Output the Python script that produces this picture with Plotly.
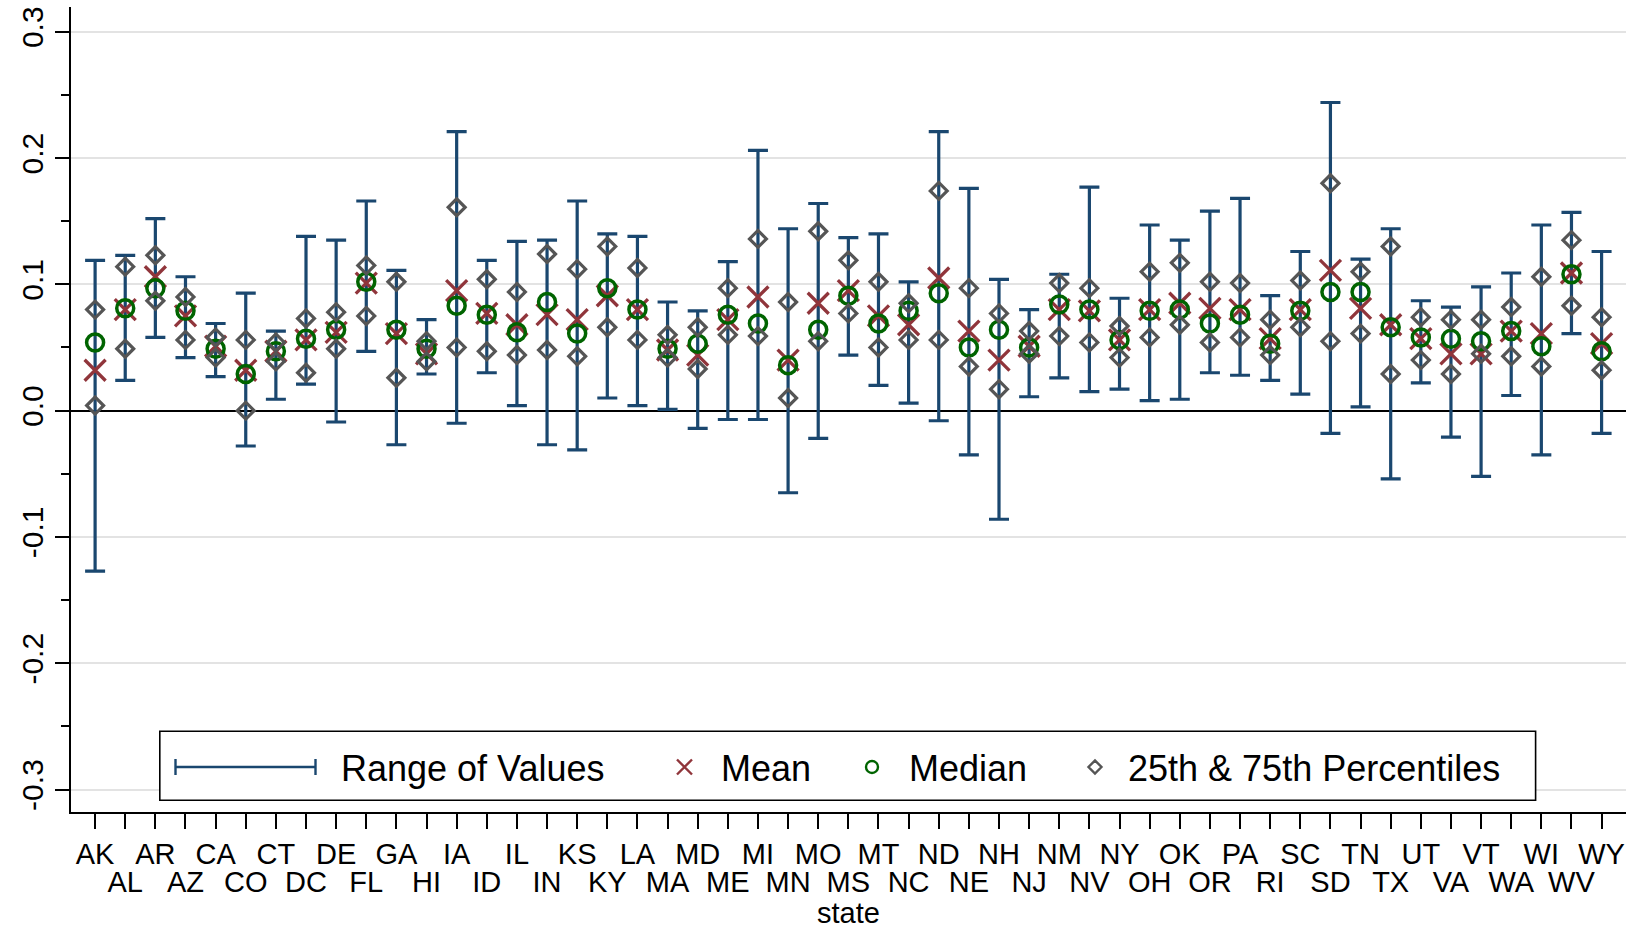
import plotly.graph_objects as go

# ---------------- data ----------------
states = ["AK", "AL", "AR", "AZ", "CA", "CO", "CT", "DC", "DE", "FL", "GA", "HI", "IA",
          "ID", "IL", "IN", "KS", "KY", "LA", "MA", "MD", "ME", "MI", "MN", "MO", "MS",
          "MT", "NC", "ND", "NE", "NH", "NJ", "NM", "NV", "NY", "OH", "OK", "OR", "PA",
          "RI", "SC", "SD", "TN", "TX", "UT", "VA", "VT", "WA", "WI", "WV", "WY"]

val_max = [0.119, 0.123, 0.152, 0.106, 0.069, 0.093, 0.063, 0.138, 0.135, 0.166, 0.111,
           0.072, 0.221, 0.119, 0.134, 0.135, 0.166, 0.140, 0.138, 0.086, 0.079, 0.118,
           0.206, 0.144, 0.164, 0.137, 0.140, 0.102, 0.221, 0.176, 0.104, 0.080, 0.108,
           0.177, 0.089, 0.147, 0.135, 0.158, 0.168, 0.091, 0.126, 0.244, 0.120, 0.144,
           0.087, 0.082, 0.098, 0.109, 0.147, 0.157, 0.126]

val_min = [-0.127, 0.024, 0.058, 0.042, 0.027, -0.028, 0.009, 0.021, -0.009, 0.047, -0.027,
           0.029, -0.010, 0.030, 0.004, -0.027, -0.031, 0.010, 0.004, 0.001, -0.014, -0.007,
           -0.007, -0.065, -0.022, 0.044, 0.020, 0.006, -0.008, -0.035, -0.086, 0.011, 0.026,
           0.015, 0.017, 0.008, 0.009, 0.030, 0.028, 0.024, 0.013, -0.018, 0.003, -0.054,
           0.022, -0.021, -0.052, 0.012, -0.035, 0.061, -0.018]

p75 = [0.080, 0.114, 0.123, 0.090, 0.058, 0.056, 0.054, 0.073, 0.078, 0.115, 0.102,
       0.055, 0.161, 0.104, 0.094, 0.124, 0.112, 0.130, 0.113, 0.060, 0.066, 0.097,
       0.136, 0.086, 0.142, 0.119, 0.102, 0.085, 0.174, 0.097, 0.077, 0.063, 0.101,
       0.097, 0.067, 0.110, 0.117, 0.102, 0.101, 0.072, 0.103, 0.180, 0.110, 0.130,
       0.074, 0.072, 0.072, 0.082, 0.106, 0.135, 0.074]

p25 = [0.004, 0.049, 0.087, 0.056, 0.042, 0.000, 0.039, 0.030, 0.049, 0.075, 0.026,
       0.039, 0.050, 0.047, 0.044, 0.048, 0.043, 0.066, 0.056, 0.042, 0.033, 0.060,
       0.059, 0.010, 0.055, 0.077, 0.050, 0.056, 0.056, 0.035, 0.017, 0.045, 0.059,
       0.054, 0.042, 0.058, 0.068, 0.054, 0.058, 0.044, 0.066, 0.055, 0.061, 0.029,
       0.040, 0.029, 0.045, 0.043, 0.035, 0.083, 0.032]

mean_vals = [0.032, 0.080, 0.106, 0.075, 0.051, 0.032, 0.047, 0.056, 0.062, 0.101, 0.061,
             0.045, 0.095, 0.077, 0.068, 0.076, 0.072, 0.091, 0.080, 0.048, 0.044, 0.072,
             0.090, 0.040, 0.085, 0.095, 0.075, 0.068, 0.105, 0.063, 0.040, 0.051, 0.080,
             0.079, 0.056, 0.080, 0.085, 0.081, 0.080, 0.057, 0.080, 0.111, 0.081, 0.068,
             0.057, 0.045, 0.045, 0.063, 0.061, 0.109, 0.053]

median_vals = [0.054, 0.081, 0.097, 0.079, 0.049, 0.029, 0.047, 0.057, 0.064, 0.102, 0.064,
               0.049, 0.083, 0.076, 0.062, 0.086, 0.061, 0.097, 0.080, 0.049, 0.053, 0.076,
               0.069, 0.036, 0.064, 0.091, 0.069, 0.079, 0.093, 0.050, 0.064, 0.050, 0.084,
               0.080, 0.056, 0.079, 0.080, 0.069, 0.076, 0.053, 0.079, 0.094, 0.094, 0.066,
               0.058, 0.057, 0.055, 0.063, 0.051, 0.108, 0.047]

ytick_vals = [-0.3, -0.2, -0.1, 0.0, 0.1, 0.2, 0.3]
ytick_text = ["-0.3", "-0.2", "-0.1", "0.0", "0.1", "0.2", "0.3"]
yminor_vals = [-0.25, -0.15, -0.05, 0.05, 0.15, 0.25]
legend_labels = ["Range of Values", "Mean", "Median", "25th & 75th Percentiles"]
x_title = "state"

# ---------------- style ----------------
NAVY = "#1a476f"
MAROON = "#90353b"
GREEN = "#006400"
GRAY = "#555555"
FONT = "Liberation Sans, Arial, sans-serif"

W, H = 1638, 932
L, R, T, B = 71, 12, 7, 120
PLOT_TOP_PX, PLOT_BOT_PX = T, H - B
PLOT_L_PX, PLOT_R_PX = L, W - R
plot_w = PLOT_R_PX - PLOT_L_PX
plot_h = PLOT_BOT_PX - PLOT_TOP_PX

X_RANGE = [-0.8, 50.81]
Y_RANGE = [-0.3178, 0.3196]


def px_to_x(px):
    return X_RANGE[0] + (px - PLOT_L_PX) / plot_w * (X_RANGE[1] - X_RANGE[0])


def px_to_y(py):
    return Y_RANGE[1] - (py - PLOT_TOP_PX) / plot_h * (Y_RANGE[1] - Y_RANGE[0])


n = len(states)
idx = list(range(n))
rng_up = [mx - mn for mx, mn in zip(val_max, val_min)]
zeros = [0] * n

fig = go.Figure()

# Range of values (caps at min and max)
fig.add_trace(go.Scatter(
    x=idx, y=val_min, mode="markers",
    marker=dict(size=2, opacity=0, color=NAVY),
    error_y=dict(type="data", symmetric=False, array=rng_up, arrayminus=zeros,
                 color=NAVY, thickness=3.2, width=10),
    showlegend=False, hoverinfo="skip"))

# Mean
fig.add_trace(go.Scatter(
    x=idx, y=mean_vals, mode="markers",
    marker=dict(symbol="x-thin-open", size=21, color=MAROON,
                line=dict(color=MAROON, width=3.3)),
    showlegend=False))

# Median
fig.add_trace(go.Scatter(
    x=idx, y=median_vals, mode="markers",
    marker=dict(symbol="circle-open", size=17, color=GREEN,
                line=dict(color=GREEN, width=3.5)),
    showlegend=False))

# 25th & 75th percentiles
fig.add_trace(go.Scatter(
    x=idx + idx, y=p25 + p75, mode="markers",
    marker=dict(symbol="diamond-open", size=13, color=GRAY,
                line=dict(color=GRAY, width=3.2)),
    showlegend=False))

# invisible trace so the second-row label axis is drawn
fig.add_trace(go.Scatter(x=[0], y=[0], xaxis="x2", yaxis="y", mode="markers",
                         marker=dict(opacity=0), showlegend=False, hoverinfo="skip"))

# ---------------- hand-made legend ----------------
box_x0, box_x1, box_y0, box_y1 = 159.8, 1535.6, 731.2, 800.2
leg_y = 767.0
sym_x = [None, 684.5, 872.0, 1095.0]
txt_x = [338.5, 719.0, 907.0, 1125.5]
ly = px_to_y(leg_y)

fig.add_trace(go.Scatter(x=[px_to_x(sym_x[1])], y=[ly], mode="markers",
                         marker=dict(symbol="x-thin-open", size=15, color=MAROON,
                                     line=dict(color=MAROON, width=2.4)),
                         showlegend=False, hoverinfo="skip"))
fig.add_trace(go.Scatter(x=[px_to_x(sym_x[2])], y=[ly], mode="markers",
                         marker=dict(symbol="circle-open", size=12, color=GREEN,
                                     line=dict(color=GREEN, width=2.4)),
                         showlegend=False, hoverinfo="skip"))
fig.add_trace(go.Scatter(x=[px_to_x(sym_x[3])], y=[ly], mode="markers",
                         marker=dict(symbol="diamond-open", size=10, color=GRAY,
                                     line=dict(color=GRAY, width=2.4)),
                         showlegend=False, hoverinfo="skip"))

shapes = [
    dict(type="rect", xref="x", yref="y",
         x0=px_to_x(box_x0), x1=px_to_x(box_x1), y0=px_to_y(box_y1), y1=px_to_y(box_y0),
         line=dict(color="black", width=1.6), fillcolor="white", layer="between"),
    dict(type="line", xref="x", yref="y", x0=px_to_x(175.5), x1=px_to_x(315.5),
         y0=ly, y1=ly, line=dict(color=NAVY, width=2.4), layer="above"),
    dict(type="line", xref="x", yref="y", x0=px_to_x(175.5), x1=px_to_x(175.5),
         y0=px_to_y(leg_y + 8), y1=px_to_y(leg_y - 8),
         line=dict(color=NAVY, width=2.4), layer="above"),
    dict(type="line", xref="x", yref="y", x0=px_to_x(315.5), x1=px_to_x(315.5),
         y0=px_to_y(leg_y + 8), y1=px_to_y(leg_y - 8),
         line=dict(color=NAVY, width=2.4), layer="above"),
]

annotations = []
for lab, tx in zip(legend_labels, txt_x):
    annotations.append(dict(text=lab, xref="x", yref="y", x=px_to_x(tx), y=px_to_y(leg_y + 1),
                            xanchor="left", yanchor="middle", showarrow=False,
                            font=dict(family=FONT, size=36, color="black")))
annotations.append(dict(text=x_title, xref="paper", yref="paper", x=0.5,
                        y=-(913 - PLOT_BOT_PX) / plot_h, xanchor="center", yanchor="middle",
                        showarrow=False, font=dict(family=FONT, size=29, color="black")))

top_text = [s if i % 2 == 0 else "" for i, s in enumerate(states)]
bot_vals = [i for i in idx if i % 2 == 1]
bot_text = [states[i] for i in bot_vals]

fig.update_layout(
    width=W, height=H,
    margin=dict(l=L, r=R, t=T, b=B, pad=0),
    paper_bgcolor="white", plot_bgcolor="white",
    font=dict(family=FONT, color="black"),
    showlegend=False,
    shapes=shapes, annotations=annotations,
    xaxis=dict(range=X_RANGE, tickmode="array", tickvals=idx, ticktext=top_text,
               ticks="outside", ticklen=15, tickwidth=2, tickcolor="black",
               showline=True, linecolor="black", linewidth=2, showgrid=False,
               zeroline=False, tickfont=dict(size=29, family=FONT),
               ticklabelstandoff=0, tickangle=0),
    xaxis2=dict(range=X_RANGE, overlaying="x", anchor="y", side="bottom",
                tickmode="array", tickvals=bot_vals, ticktext=bot_text,
                ticks="outside", ticklen=15, tickwidth=2, tickcolor="rgba(0,0,0,0)",
                showline=False, showgrid=False, zeroline=False,
                tickfont=dict(size=29, family=FONT), ticklabelstandoff=29, tickangle=0),
    yaxis=dict(range=Y_RANGE, tickmode="array", tickvals=ytick_vals,
               ticktext=ytick_text, tickangle=-90, ticks="outside", ticklen=14,
               tickwidth=2, tickcolor="black", showline=True, linecolor="black",
               linewidth=2, showgrid=True, gridcolor="#e3e3e3", gridwidth=2,
               zeroline=True, zerolinecolor="black", zerolinewidth=2.2,
               tickfont=dict(size=30, family=FONT), ticklabelstandoff=0,
               minor=dict(tickvals=yminor_vals, ticks="outside", ticklen=8,
                          tickwidth=2, tickcolor="black", showgrid=False)),
)

fig.write_html("out.html")
